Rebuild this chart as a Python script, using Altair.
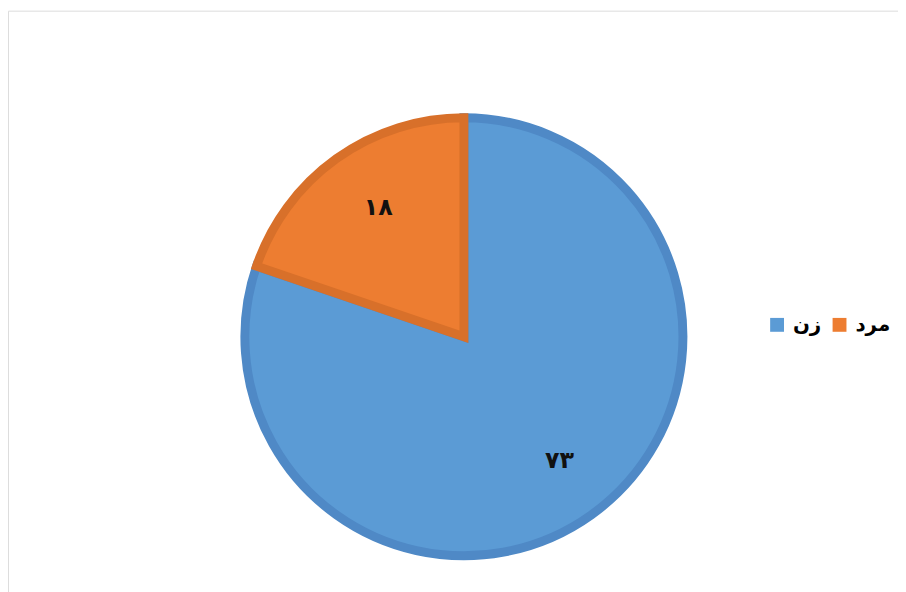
import altair as alt
import pandas as pd

categories = ["زن", "مرد"]
values = [73, 18]
fill_colors = ["#5B9BD5", "#ED7D31"]
stroke_colors = ["#4F89C6", "#D8702A"]

persian = str.maketrans("0123456789", "۰۱۲۳۴۵۶۷۸۹")
df = pd.DataFrame({
    "cat": categories,
    "value": values,
    "label": [str(v).translate(persian) for v in values],
    "order": list(range(len(categories))),
})

base = alt.Chart(df).encode(
    theta=alt.Theta("value:Q", stack=True),
    order=alt.Order("order:Q"),
)

arcs = base.mark_arc(outerRadius=221, strokeWidth=9, strokeJoin="miter").encode(
    x=alt.value(460),
    y=alt.value(329),
    color=alt.Color(
        "cat:N",
        scale=alt.Scale(domain=categories, range=fill_colors),
        sort=categories,
        legend=alt.Legend(
            title=None, orient="none", direction="horizontal",
            legendX=766, legendY=307, symbolType="square", symbolSize=196,
            symbolStrokeWidth=0, labelFont="DejaVu Sans", labelFontSize=20,
            labelFontWeight="bold", labelColor="#000000", columnPadding=8,
            labelOffset=6,
        ),
    ),
    stroke=alt.Stroke("cat:N", scale=alt.Scale(domain=categories, range=stroke_colors), legend=None),
)

texts = base.mark_text(radius=157, font="DejaVu Sans", fontSize=24, fontWeight="bold", color="#111111").encode(
    x=alt.value(465),
    y=alt.value(327),
    text="label:N",
)

chart = (arcs + texts).properties(
    width=898, height=600,
    autosize=alt.AutoSizeParams(type="none"),
    padding=0,
).configure_view(stroke="#d9d9d9", strokeWidth=2).configure(background="white")

chart.save("out.html", embed_options={"renderer": "svg", "actions": False})
